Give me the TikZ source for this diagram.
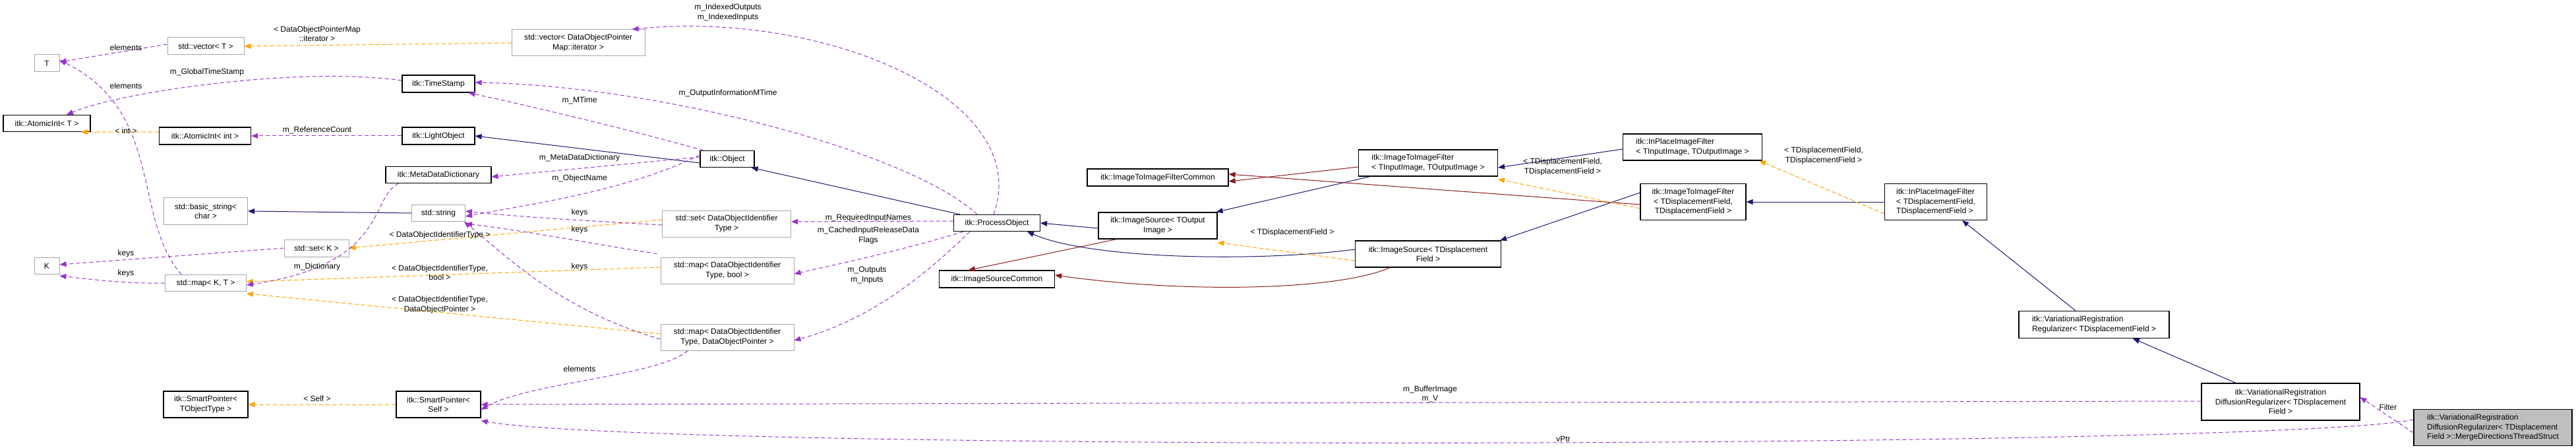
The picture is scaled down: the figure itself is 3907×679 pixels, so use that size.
\documentclass[tikz,border=0pt]{standalone}
\usepackage{fontspec}
\setmainfont{Liberation Sans}
\usetikzlibrary{arrows.meta}
\definecolor{inh}{HTML}{191970}
\definecolor{prv}{HTML}{8B1A1A}
\definecolor{usg}{HTML}{9A32CD}
\definecolor{tpl}{HTML}{FFA500}
\begin{document}
\begin{tikzpicture}[x=1pt,y=-1pt,
  every node/.style={font=\fontsize{12}{14.3}\selectfont},
  box/.style={draw=black,line width=1.2pt,rectangle,inner sep=2pt,align=center,fill=white},
  gbox/.style={box,draw=black!35,line width=1pt},
  lbl/.style={inner sep=0pt,align=center},
  tip/.style={-{Triangle[length=10pt,width=8pt]}},
  use/.style={tip,draw=usg,dashed,dash pattern=on 6pt off 4pt,line width=1pt},
  tmp/.style={tip,draw=tpl,fill=tpl,dashed,dash pattern=on 6pt off 4pt,line width=1pt},
  ih/.style={tip,draw=inh,line width=1pt},
  pv/.style={tip,draw=prv,line width=1pt}]
\useasboundingbox (0,0) rectangle (3907,679);
% nodes
\node[gbox,minimum width=38,minimum height=26] (T) at (71,96) {T};
\node[gbox,minimum width=116,minimum height=26] (vecT) at (312,70) {std::vector< T >};
\node[box,minimum width=110,minimum height=26] (TS) at (665,127) {itk::TimeStamp};
\node[box,minimum width=132,minimum height=25] (AIT) at (71,187) {itk::AtomicInt< T >};
\node[box,minimum width=139,minimum height=26] (AI) at (311,206) {itk::AtomicInt< int >};
\node[box,minimum width=110,minimum height=26] (LO) at (665,206) {itk::LightObject};
\node[box,minimum width=160,minimum height=25] (MDD) at (665,265) {itk::MetaDataDictionary};
\node[gbox,minimum width=127,minimum height=41] (BS) at (312,320) {std::basic\_string<\\char >};
\node[gbox,minimum width=81,minimum height=25] (STR) at (665,323) {std::string};
\node[gbox,minimum width=98,minimum height=26] (setK) at (480,376) {std::set< K >};
\node[gbox,minimum width=38,minimum height=25] (K) at (71,403) {K};
\node[gbox,minimum width=123,minimum height=25] (mapKT) at (312,429) {std::map< K, T >};
\node[box,minimum width=128,minimum height=40] (SPT) at (312,613) {itk::SmartPointer<\\TObjectType >};
\node[box,minimum width=128,minimum height=40] (SPS) at (665,613) {itk::SmartPointer<\\Self >};
\node[gbox,minimum width=202,minimum height=40] (DOPM) at (877,65) {std::vector< DataObjectPointer\\Map::iterator >};
\node[box,minimum width=82,minimum height=25] (OBJ) at (1103,241) {itk::Object};
\node[box,minimum width=131,minimum height=25] (PO) at (1512,338) {itk::ProcessObject};
\node[gbox,minimum width=195,minimum height=40] (setD) at (1102,339) {std::set< DataObjectIdentifier\\Type >};
\node[gbox,minimum width=202,minimum height=40] (mapB) at (1103,410) {std::map< DataObjectIdentifier\\Type, bool >};
\node[gbox,minimum width=202,minimum height=40] (mapP) at (1103,511) {std::map< DataObjectIdentifier\\Type, DataObjectPointer >};
\node[box,minimum width=175,minimum height=26] (ISC) at (1512,423) {itk::ImageSourceCommon};
\node[box,minimum width=214,minimum height=26] (ITIFC) at (1756,269) {itk::ImageToImageFilterCommon};
\node[box,minimum width=180,minimum height=40] (IS) at (1756,342) {itk::ImageSource< TOutput\\Image >};
\node[box,minimum width=211,minimum height=40,align=left] (ITIF) at (2166,247) {itk::ImageToImageFilter\\< TInputImage, TOutputImage >};
\node[box,minimum width=211,minimum height=40,align=left] (IP) at (2567,223) {itk::InPlaceImageFilter\\< TInputImage, TOutputImage >};
\node[box,minimum width=160,minimum height=55] (ITIFd) at (2568,306) {itk::ImageToImageFilter\\< TDisplacementField,\\ TDisplacementField >};
\node[box,minimum width=221,minimum height=40] (ISd) at (2166,385) {itk::ImageSource< TDisplacement\\Field >};
\node[box,minimum width=155,minimum height=55,align=left] (IPd) at (2936,306) {itk::InPlaceImageFilter\\< TDisplacementField,\\ TDisplacementField >};
\node[box,minimum width=228,minimum height=41,align=left] (VR) at (3176,492) {itk::VariationalRegistration\\Regularizer< TDisplacementField >};
\node[box,minimum width=240,minimum height=56] (DR) at (3459,609) {itk::VariationalRegistration\\DiffusionRegularizer< TDisplacement\\Field >};
\node[box,fill=black!25,minimum width=240,minimum height=55,align=left] (FIN) at (3781,648) {itk::VariationalRegistration\\DiffusionRegularizer< TDisplacement\\Field >::MergeDirectionsThreadStruct};
% inheritance
\draw[ih] (STR.west) -- (BS.east);
\draw[ih] ([yshift=-6]OBJ.west) -- (LO.east);
\draw[ih] ([xshift=10]PO.north west) -- ([xshift=-5]OBJ.south east);
\draw[ih] ([yshift=-4]IS.west) -- (PO.east);
\draw[ih] ([yshift=7]ISd.west) .. controls (1900,398) and (1650,392) .. ([xshift=-20]PO.south east);
\draw[ih] ([xshift=18]ITIF.south west) -- ([xshift=-2]IS.north east);
\draw[ih] ([yshift=-3]IP.west) -- ([yshift=-7]ITIF.east);
\draw[ih] ([yshift=14]ITIFd.west) -- ([xshift=-2]ISd.north east);
\draw[ih] (IPd.west) -- (ITIFd.east);
\draw[ih] ([xshift=-28]VR.north) -- ([xshift=-38]IPd.south east);
\draw[ih] ([xshift=-68]DR.north) -- ([xshift=59]VR.south);
% private/common
\draw[pv] ([xshift=28]IS.south west) -- ([xshift=45]ISC.north west);
\draw[pv] ([xshift=-58]ISd.south) .. controls (2030,440) and (1800,445) .. ([yshift=6]ISC.east);
\draw[pv] ([yshift=-6]ITIF.west) -- ([yshift=-6]ITIFC.east);
\draw[pv] ([yshift=-4]ITIFd.west) -- ([yshift=5]ITIFC.east);
% templates
\draw[tmp] (DOPM.west) -- (vecT.east);
\draw[tmp] ([yshift=6]AI.west) -- ([xshift=-15]AIT.south east);
\draw[tmp] ([yshift=6]setD.west) -- (setK.east);
\draw[tmp] ([yshift=5]mapB.west) -- ([yshift=2]mapKT.east);
\draw[tmp] ([yshift=5]mapP.west) -- ([yshift=-3]mapKT.south east);
\draw[tmp] (SPS.west) -- (SPT.east);
\draw[tmp] ([yshift=-10]ITIFd.west) -- ([yshift=-4]ITIF.south east);
\draw[tmp] ([yshift=-10]ISd.west) -- ([yshift=-5]IS.south east);
\draw[tmp] ([yshift=-18]IPd.west) -- ([xshift=-5]IP.south east);
% usage
\draw[use] ([yshift=3]vecT.west) -- ([yshift=2]T.east);
\draw[use] ([yshift=5]TS.west) .. controls (450,100) and (180,140) .. ([xshift=30]AIT.north);
\draw[use] ([xshift=25]mapKT.north west) .. controls (200,330) and (250,170) .. ([yshift=5]T.east);
\draw[use] (LO.west) -- (AI.east);
\draw[use] ([xshift=5]OBJ.north west) .. controls (950,195) and (800,160) .. ([xshift=-10]TS.south east);
\draw[use] ([xshift=-30]PO.north) .. controls (1380,230) and (1000,130) .. ([yshift=2]TS.east);
\draw[use] ([xshift=-5]PO.north) .. controls (1570,150) and (1250,15) .. ([xshift=-20]DOPM.north east);
\draw[use] ([yshift=3]OBJ.west) -- ([yshift=-3]MDD.east);
\draw[use] ([yshift=6]OBJ.west) .. controls (950,290) and (800,310) .. ([yshift=-5]STR.east);
\draw[use] ([yshift=-2]setD.west) .. controls (900,335) and (800,330) .. ([yshift=3]STR.east);
\draw[use] ([xshift=-5,yshift=5]mapB.north west) .. controls (900,370) and (800,350) .. ([yshift=-3]STR.south east);
\draw[use] ([yshift=-3]mapP.west) .. controls (850,470) and (770,390) .. ([xshift=-2]STR.south east);
\draw[use] (setK.west) -- ([yshift=2]K.east);
\draw[use] (mapKT.west) .. controls (200,430) and (150,425) .. ([yshift=-2]K.south east);
\draw[use] ([xshift=20]MDD.south west) .. controls (560,300) and (590,400) .. ([yshift=-3]mapKT.east);
\draw[use] ([yshift=3]PO.west) -- ([yshift=3]setD.east);
\draw[use] ([xshift=15]PO.south west) .. controls (1400,370) and (1320,390) .. ([yshift=-5]mapB.east);
\draw[use] ([xshift=25]PO.south west) .. controls (1380,440) and (1300,490) .. ([yshift=-5]mapP.east);
\draw[use] ([xshift=-60]mapP.south) .. controls (1000,570) and (800,580) .. ([yshift=-8]SPS.east);
\draw[use] ([yshift=1]DR.west) -- (SPS.east);
\draw[use] ([yshift=12]FIN.west) .. controls (3450,680) and (1000,685) .. ([yshift=-4]SPS.south east);
\draw[use] ([yshift=-8]FIN.west) -- ([yshift=7]DR.east);
% labels
\node[lbl] (l1) at (191,72) {elements};
\node[lbl] (l2) at (314,109) {m\_GlobalTimeStamp};
\node[lbl] (l3) at (191,130) {elements};
\node[lbl] (l4) at (191,198) {< int >};
\node[lbl] (l5) at (481,197) {m\_ReferenceCount};
\node[lbl] (l6) at (481,51) {< DataObjectPointerMap\\::iterator >};
\node[lbl] (l7) at (667,356) {< DataObjectIdentifierType >};
\node[lbl] (l8) at (191,384) {keys};
\node[lbl] (l9) at (191,414) {keys};
\node[lbl] (l10) at (481,404) {m\_Dictionary};
\node[lbl] (l11) at (667,413) {< DataObjectIdentifierType,\\bool >};
\node[lbl] (l12) at (667,462) {< DataObjectIdentifierType,\\DataObjectPointer >};
\node[lbl] (l13) at (481,604) {< Self >};
\node[lbl] (l14) at (1104,19) {m\_IndexedOutputs\\m\_IndexedInputs};
\node[lbl] (l15) at (1104,141) {m\_OutputInformationMTime};
\node[lbl] (l16) at (879,152) {m\_MTime};
\node[lbl] (l17) at (879,239) {m\_MetaDataDictionary};
\node[lbl] (l18) at (879,270) {m\_ObjectName};
\node[lbl] (l19) at (879,322) {keys};
\node[lbl] (l20) at (879,348) {keys};
\node[lbl] (l21) at (879,404) {keys};
\node[lbl] (l22) at (879,559) {elements};
\node[lbl] (l23) at (1317,330) {m\_RequiredInputNames};
\node[lbl] (l24) at (1317,357) {m\_CachedInputReleaseData\\Flags};
\node[lbl] (l25) at (1315,417) {m\_Outputs\\m\_Inputs};
\node[lbl] (l26) at (2370,253) {< TDisplacementField,\\TDisplacementField >};
\node[lbl] (l27) at (1960,352) {< TDisplacementField >};
\node[lbl] (l28) at (2766,236) {< TDisplacementField,\\TDisplacementField >};
\node[lbl] (l29) at (2169,597) {m\_BufferImage\\m\_V};
\node[lbl] (l30) at (2371,665) {vPtr};
\node[lbl] (l31) at (3622,617) {Filter};
\end{tikzpicture}
\end{document}
